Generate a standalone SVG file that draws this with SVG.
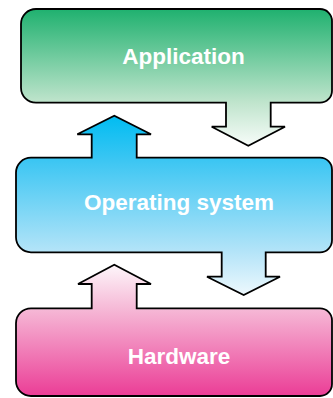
<svg xmlns="http://www.w3.org/2000/svg" width="333" height="398" viewBox="0 0 333 398">
<style>
.shape{stroke:#000;stroke-width:1.8;stroke-linejoin:miter}
.lbl{font-family:"Liberation Sans",Arial,Helvetica,sans-serif;font-weight:bold;font-size:22.5px;fill:#fff;text-anchor:middle}
</style>
<defs>
<linearGradient id="gApp" x1="0" y1="0" x2="0" y2="1">
<stop offset="0" stop-color="#1fb16f"/>
<stop offset="0.68" stop-color="#bfe4cc"/>
<stop offset="1" stop-color="#f7fcf9"/>
</linearGradient>
<linearGradient id="gOS" x1="0" y1="0" x2="0" y2="1">
<stop offset="0" stop-color="#00bcf1"/>
<stop offset="0.25" stop-color="#3cc6f3"/>
<stop offset="0.76" stop-color="#b4e4f8"/>
<stop offset="1" stop-color="#edf8fd"/>
</linearGradient>
<linearGradient id="gHW" x1="0" y1="0" x2="0" y2="1">
<stop offset="0" stop-color="#fdf6fa"/>
<stop offset="0.33" stop-color="#f6bad7"/>
<stop offset="1" stop-color="#eb3d96"/>
</linearGradient>
</defs>
<g id="application">
<path class="shape" fill="url(#gApp)" d="M21,24 A15,15 0 0 1 36,9 H320 A12,12 0 0 1 332,21 V90.7 A12,12 0 0 1 320,102.7 H270.7 V126.7 H285 L248.3,145.7 L211.7,126.7 H226 V102.7 H36 A15,15 0 0 1 21,87.7 Z"/>
<text class="lbl" x="183.5" y="64">Application</text>
</g>
<g id="operating-system">
<path class="shape" fill="url(#gOS)" d="M16,172.7 A15,15 0 0 1 31,157.7 H91.7 V134.3 H77.3 L114.3,115.7 L151,134.3 H136.7 V157.7 H320 A12,12 0 0 1 332,169.7 V240.3 A12,12 0 0 1 320,252.3 H265.7 V276.7 H280 L243.7,295 L207,276.7 H221.7 V252.3 H31 A15,15 0 0 1 16,237.3 Z"/>
<text class="lbl" x="179" y="210">Operating system</text>
</g>
<g id="hardware">
<path class="shape" fill="url(#gHW)" d="M16,323.3 A15,15 0 0 1 31,308.3 H91.7 V284 H78 L114.3,264.7 L151,284 H136.7 V308.3 H320 A12,12 0 0 1 332,320.3 V384 A12,12 0 0 1 320,396 H31 A15,15 0 0 1 16,381 Z"/>
<text class="lbl" x="179" y="364">Hardware</text>
</g>
<g id="connectors"></g>
</svg>
